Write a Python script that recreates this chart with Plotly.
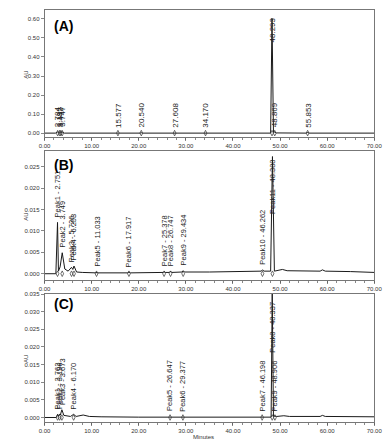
import numpy as np
import plotly.graph_objects as go

# ---------------- data ----------------
# Panel A trace vertices (minutes, AU)
a_time = [0, 2.3, 2.784, 2.95, 3.19, 3.3, 3.44, 3.6, 3.75, 4.2, 8.0, 12.0, 15.3, 15.577, 15.9,
          20.3, 20.54, 20.8, 27.3, 27.608, 27.9, 31.0, 33.9, 34.17, 34.45, 40.0, 44.5, 45.5,
          48.0, 48.293, 48.6, 48.869, 49.2, 55.5, 55.853, 56.2, 61.0, 66.0, 70.0]
a_au = [0.000, 0.000, 0.006, 0.002, 0.005, 0.003, 0.005, 0.003, 0.006, 0.000, 0.001, 0.000, 0.000, 0.003, 0.000,
        0.000, 0.002, 0.000, 0.000, 0.003, 0.000, 0.001, 0.000, 0.002, 0.000, 0.000, 0.002, 0.000,
        0.000, 0.603, 0.004, 0.006, 0.001, 0.000, 0.003, 0.000, 0.001, 0.001, 0.000]
a_peak_rt = [2.784, 3.192, 3.442, 3.747, 15.577, 20.540, 27.608, 34.170, 48.293, 48.869, 55.853]
a_peak_lbl = ["2.784", "3.192", "3.442", "3.747", "15.577", "20.540", "27.608", "34.170",
              "48.293", "48.869", "55.853"]

# Panel B trace vertices
b_time = [0, 2.4, 2.751, 2.95, 3.3, 3.749, 4.3, 5.0, 5.726, 6.0, 6.253, 6.8, 8.0, 11.0, 11.033, 11.2,
          17.7, 17.917, 18.2, 25.2, 25.378, 25.6, 26.5, 26.747, 27.0, 29.2, 29.434, 29.7, 35.0,
          40.0, 46.0, 46.262, 46.6, 48.0, 48.388, 48.8, 50.5, 51.5, 55.0, 58.5, 59.0, 59.6, 65.0, 70.0]
b_au = [0.0000, 0.0000, 0.0120, 0.0006, 0.0016, 0.0049, 0.0011, 0.0006, 0.0015, 0.0010, 0.0018, 0.0004, 0.0003, 0.0002, 0.0004, 0.0002,
        0.0002, 0.0004, 0.0002, 0.0003, 0.0005, 0.0003, 0.0003, 0.0006, 0.0003, 0.0004, 0.0007, 0.0004, 0.0004,
        0.0005, 0.0006, 0.0009, 0.0006, 0.0006, 0.0274, 0.0006, 0.0010, 0.0007, 0.0007, 0.0006, 0.0009, 0.0006, 0.0005, 0.0003]
b_peak_rt = [2.751, 3.749, 5.726, 6.253, 11.033, 17.917, 25.378, 26.747, 29.434, 46.262, 48.388]
b_peak_lbl = ["Peak1 - 2.751", "Peak2 - 3.749", "Peak3 - 5.726", "Peak4 - 6.253", "Peak5 - 11.033",
              "Peak6 - 17.917", "Peak7 - 25.378", "Peak8 - 26.747", "Peak9 - 29.434",
              "Peak10 - 46.262", "Peak11 - 48.388"]

# Panel C trace vertices
c_time = [0, 2.5, 2.762, 2.95, 3.198, 3.35, 3.673, 4.1, 5.5, 6.170, 6.7, 7.5, 8.2, 9.5, 12.0, 20.0,
          26.4, 26.647, 26.9, 29.1, 29.377, 29.6, 40.0, 46.0, 46.198, 46.4, 48.1, 48.337, 48.6,
          48.906, 49.3, 50.8, 52.0, 58.5, 59.0, 59.6, 65.0, 70.0]
c_au = [0.0000, 0.0000, 0.0009, 0.0004, 0.0010, 0.0007, 0.0022, 0.0006, 0.0003, 0.0009, 0.0003, 0.0004, 0.0007, 0.0003, 0.0002, 0.0001,
        0.0001, 0.0003, 0.0001, 0.0001, 0.0003, 0.0001, 0.0001, 0.0001, 0.0002, 0.0001, 0.0001, 0.0352, 0.0003,
        0.0004, 0.0003, 0.0005, 0.0003, 0.0003, 0.0006, 0.0003, 0.0003, 0.0002]
c_peak_rt = [2.762, 3.198, 3.673, 6.170, 26.647, 29.377, 46.198, 48.337, 48.906]
c_peak_lbl = ["Peak1 - 2.762", "Peak2 - 3.198", "Peak3 - 3.673", "Peak4 - 6.170", "Peak5 - 26.647",
              "Peak6 - 29.377", "Peak7 - 46.198", "Peak8 - 48.337", "Peak9 - 48.906"]

panel_names = ["(A)", "(B)", "(C)"]
x_ticks = [0, 10, 20, 30, 40, 50, 60, 70]
a_yticks = [0.00, 0.10, 0.20, 0.30, 0.40, 0.50, 0.60]
b_yticks = [0.000, 0.005, 0.010, 0.015, 0.020, 0.025]
c_yticks = [0.000, 0.005, 0.010, 0.015, 0.020, 0.025, 0.030, 0.035]

# ---------------- layout helpers ----------------
W, H = 389, 448
FONT = "Arial, Liberation Sans, sans-serif"
def px_x(p): return p / W
def px_y(p): return 1 - p / H

panels = [
    dict(t=a_time, v=a_au, rt=a_peak_rt, lbl=a_peak_lbl, yt=a_yticks, fmt=".2f",
         yr=[-0.0209, 0.647], top=7, bot=135, lfs=8, au_y=72, name_y=23),
    dict(t=b_time, v=b_au, rt=b_peak_rt, lbl=b_peak_lbl, yt=b_yticks, fmt=".3f",
         yr=[-0.0015, 0.0287], top=149, bot=279, lfs=7.5, au_y=215, name_y=163),
    dict(t=c_time, v=c_au, rt=c_peak_rt, lbl=c_peak_lbl, yt=c_yticks, fmt=".3f",
         yr=[-0.00124, 0.0350], top=293, bot=421.7, lfs=7.5, au_y=358, name_y=303),
]

fig = go.Figure()
annotations = []
layout = {}
for i, p in enumerate(panels):
    n = "" if i == 0 else str(i + 1)
    xa, ya = "x" + n, "y" + n
    fig.add_trace(go.Scatter(x=p["t"], y=p["v"], mode="lines", xaxis=xa, yaxis=ya,
                             line=dict(color="#1a1a1a", width=1.0), showlegend=False,
                             hoverinfo="skip"))
    apex = np.interp(p["rt"], p["t"], p["v"])
    base_level = [min(p["v"])] * len(p["rt"])
    fig.add_trace(go.Scatter(x=p["rt"], y=base_level,
                             mode="markers", xaxis=xa, yaxis=ya, showlegend=False, hoverinfo="skip",
                             marker=dict(symbol="diamond-tall-open", size=4, color="#333",
                                         line=dict(width=0.7, color="#333"))))
    span = p["yr"][1] - p["yr"][0]
    for rt, ap, lb in zip(p["rt"], apex, p["lbl"]):
        if ap > 0.5 * span:
            annotations.append(dict(x=rt, y=p["yr"][1], xref=xa, yref=ya, text=lb, textangle=-90,
                                    showarrow=False, xanchor="center", yanchor="top", yshift=-6,
                                    font=dict(family=FONT, size=p["lfs"], color="#222")))
        else:
            annotations.append(dict(x=rt, y=ap, xref=xa, yref=ya, text=lb, textangle=-90,
                                    showarrow=False, xanchor="center", yanchor="bottom", yshift=3,
                                    font=dict(family=FONT, size=p["lfs"], color="#222")))
    annotations.append(dict(x=px_x(48), y=px_y(p["name_y"]), xref="paper", yref="paper",
                            text="<b>" + panel_names[i] + "</b>", showarrow=False,
                            xanchor="left", yanchor="middle",
                            font=dict(family=FONT, size=14, color="black")))
    annotations.append(dict(x=px_x(20), y=px_y(p["au_y"]), xref="paper", yref="paper",
                            text="AU", textangle=-90, showarrow=False,
                            xanchor="center", yanchor="middle",
                            font=dict(family=FONT, size=6, color="#333")))
    axis_common = dict(showline=True, mirror=True, linecolor="#555", linewidth=0.8,
                       ticks="outside", ticklen=3, tickwidth=0.7, tickcolor="#555",
                       showgrid=False, zeroline=False, ticklabeloverflow="allow",
                       tickfont=dict(family=FONT, size=6, color="#333"))
    layout["xaxis" + n] = dict(axis_common, domain=[px_x(40), px_x(382)], range=[0, 70],
                               tickvals=x_ticks, tickformat=".2f", anchor=ya,
                               minor=dict(dtick=2, ticklen=2, ticks="outside", tickcolor="#555"))
    layout["yaxis" + n] = dict(axis_common, domain=[px_y(p["bot"]), px_y(p["top"])],
                               range=p["yr"], tickvals=p["yt"], tickformat=p["fmt"], anchor=xa)

annotations.append(dict(x=px_x(205), y=px_y(437), xref="paper", yref="paper", text="Minutes",
                        showarrow=False, xanchor="center", yanchor="middle",
                        font=dict(family=FONT, size=6, color="#333")))

fig.update_layout(width=W, height=H, margin=dict(l=0, r=0, t=0, b=0),
                  paper_bgcolor="white", plot_bgcolor="white", hovermode=False,
                  annotations=annotations, **layout)
fig.write_html("out.html", config={"displayModeBar": False, "staticPlot": True},
               post_script="document.body.style.margin='0';document.body.style.overflow='hidden';")
